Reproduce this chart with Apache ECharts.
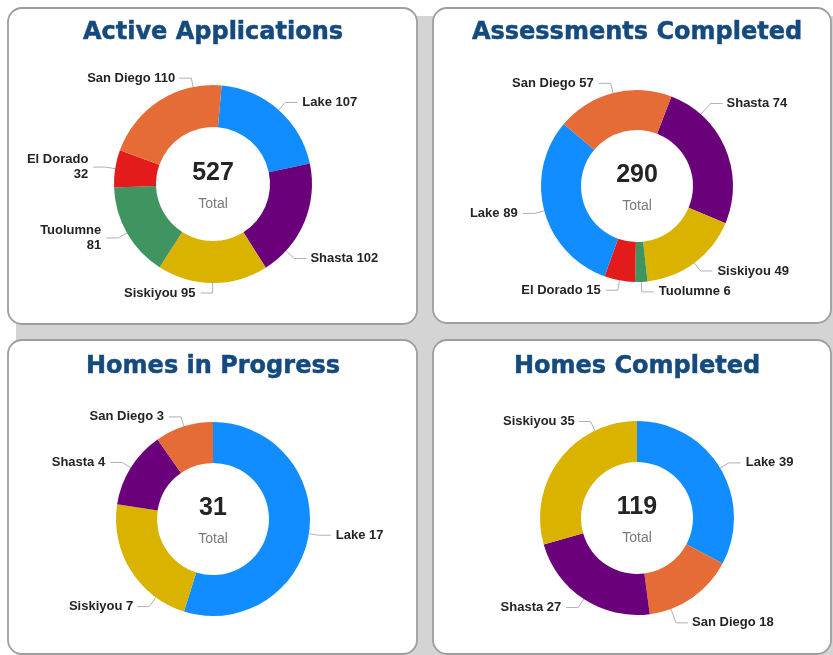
<!DOCTYPE html>
<html>
<head>
<meta charset="utf-8">
<script src="https://cdn.jsdelivr.net/npm/echarts@6/dist/echarts.min.js"></script>
<style>
  html, body { margin: 0; padding: 0; background: #fff; }
  #chart { width: 833px; height: 655px; }
</style>
</head>
<body>
<div id="chart"></div>
<script>
// chart titles, one per donut
var titles = ["Active Applications", "Assessments Completed", "Homes in Progress", "Homes Completed"];

// slices, listed clockwise
var activeNames = ["Lake", "Shasta", "Siskiyou", "Tuolumne", "El Dorado", "San Diego"];
var activeValues = [107, 102, 95, 81, 32, 110];

var assessNames = ["Shasta", "Siskiyou", "Tuolumne", "El Dorado", "Lake", "San Diego"];
var assessValues = [74, 49, 6, 15, 89, 57];

var progressNames = ["Lake", "Siskiyou", "Shasta", "San Diego"];
var progressValues = [17, 7, 4, 3];

var completedNames = ["Lake", "San Diego", "Shasta", "Siskiyou"];
var completedValues = [39, 18, 27, 35];

var centerCaption = "Total";

var countyColors = {
  "Lake": "#118dff",
  "Shasta": "#6b007b",
  "Siskiyou": "#d9b300",
  "Tuolumne": "#3f9460",
  "El Dorado": "#e31b1b",
  "San Diego": "#e66c37"
};

// layout of the four cards
var panels = [
  { x: 8,   y: 8,   w: 409, h: 316, cx: 213, cy: 184, r: [57, 99], start: 85 },
  { x: 433, y: 8,   w: 398, h: 315, cx: 637, cy: 186, r: [56, 96], start: 69 },
  { x: 8,   y: 340, w: 409, h: 314, cx: 213, cy: 519, r: [56, 97], start: 90 },
  { x: 433, y: 340, w: 398, h: 314, cx: 637, cy: 518, r: [56, 97], start: 90 }
];
// labels shown on two lines
var wrapped = [["El Dorado", "Tuolumne"], [], [], []];
// the source tool doesn't put every label at the slice's mid angle; nudge those
var labelNudge = [
  { "San Diego": [38, -14], "Shasta": [-20, 32] },
  { "Shasta": [-25, -41] },
  { "Siskiyou": [28, 31] },
  { "Siskiyou": [40, -32], "San Diego": [-23, 17] }
];

var sets = [
  [activeNames, activeValues],
  [assessNames, assessValues],
  [progressNames, progressValues],
  [completedNames, completedValues]
];

var chart = echarts.init(document.getElementById("chart"));

var graphics = [
  // grey gutter between the cards
  { type: "rect", z: 0, shape: { x: 16, y: 16, width: 817, height: 639 },
    style: { fill: "#d4d4d4" } }
];
var series = [];

panels.forEach(function (p, i) {
  var names = sets[i][0];
  var values = sets[i][1];
  var total = values.reduce(function (a, b) { return a + b; }, 0);

  graphics.push({
    type: "rect", z: 1,
    shape: { x: p.x, y: p.y, width: p.w, height: p.h, r: 14 },
    style: { fill: "#fff", stroke: "#9e9e9e", lineWidth: 1.8 }
  });
  graphics.push({
    type: "text", z: 2,
    style: {
      text: titles[i], x: p.cx, y: p.y + (i < 2 ? 25 : 27),
      textAlign: "center", textVerticalAlign: "middle",
      font: "bold 24px 'DejaVu Sans'", fill: "#154a7e",
      stroke: "#154a7e", lineWidth: 0.5
    }
  });
  graphics.push({
    type: "text", z: 2,
    style: {
      text: String(total), x: p.cx, y: p.cy - 11,
      textAlign: "center", textVerticalAlign: "middle",
      font: "bold 25px 'Liberation Sans'", fill: "#252423"
    }
  });
  graphics.push({
    type: "text", z: 2,
    style: {
      text: centerCaption, x: p.cx, y: p.cy + 20,
      textAlign: "center", textVerticalAlign: "middle",
      font: "14px 'Liberation Sans'", fill: "#7a7a7a"
    }
  });

  series.push({
    type: "pie",
    z: 3,
    center: [p.cx, p.cy],
    radius: p.r,
    startAngle: p.start,
    clockwise: true,
    silent: true,
    label: {
      show: true,
      position: "outside",
      color: "#252423",
      fontFamily: "Liberation Sans",
      fontWeight: "bold",
      fontSize: 13,
      lineHeight: 15,
      formatter: function (d) {
        return wrapped[i].indexOf(d.name) >= 0 ? d.name + "\n" + d.value : d.name + " " + d.value;
      }
    },
    labelLine: {
      show: true,
      length: 10,
      length2: 12,
      lineStyle: { color: "#b0b0b0", width: 1 }
    },
    labelLayout: function (params) {
      var shift = labelNudge[i][names[params.dataIndex]];
      if (!shift) return {};
      var rc = params.labelRect;
      var left = rc.x + shift[0];
      var midY = rc.y + rc.height / 2 + shift[1];
      var onRight = left > p.cx;
      // guide line: horizontal stub next to the text, then to the ring
      var endX = onRight ? left - 4 : left + rc.width + 4;
      var bendX = onRight ? endX - 12 : endX + 12;
      var dx = bendX - p.cx, dy = midY - p.cy;
      var dist = Math.sqrt(dx * dx + dy * dy);
      var ring = [p.cx + dx / dist * p.r[1], p.cy + dy / dist * p.r[1]];
      return {
        x: left,
        y: midY,
        align: "left",
        verticalAlign: "middle",
        labelLinePoints: [ring, [bendX, midY], [endX, midY]]
      };
    },
    itemStyle: { borderWidth: 0 },
    data: names.map(function (n, k) {
      return { name: n, value: values[k], itemStyle: { color: countyColors[n] } };
    })
  });
});

chart.setOption({
  animation: false,
  graphic: graphics,
  series: series
});
</script>
</body>
</html>
